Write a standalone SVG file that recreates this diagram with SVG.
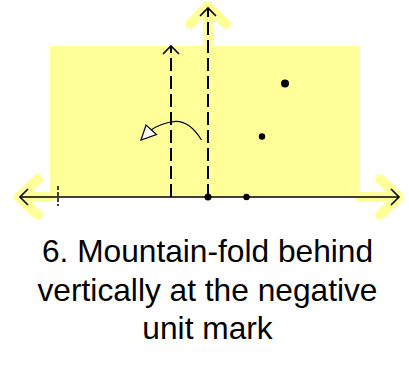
<svg xmlns="http://www.w3.org/2000/svg" width="409" height="389" viewBox="0 0 409 389">
<style>
.hl{fill:none;stroke:#ffff99;stroke-width:10;stroke-linecap:round;stroke-linejoin:round}
.ax{fill:none;stroke:#000;stroke-width:1.6}
.ah{fill:none;stroke:#000;stroke-width:1.6;stroke-linejoin:miter}
.dash{fill:none;stroke:#000;stroke-width:2;stroke-dasharray:13,5}
.dot{fill:#000}
.lbl{font-family:"Liberation Sans",Arial,sans-serif;font-size:31.7px;fill:#000;text-anchor:middle}
</style>
<rect width="409" height="389" fill="#fff"/>
<g id="paper">
<rect x="50" y="46" width="310" height="151" fill="#ffff99"/>
</g>
<g id="highlights">
<polyline class="hl" points="50,197 19,197"/>
<polyline class="hl" points="38,179 19,197 38,215"/>
<polyline class="hl" points="360,197 399,197"/>
<polyline class="hl" points="380,179 399,197 380,215"/>
<polyline class="hl" points="208,46 208,6"/>
<polyline class="hl" points="190,24 208,6 226,24"/>
</g>
<g id="connectors">
<line class="ax" x1="20" y1="197" x2="399" y2="197"/>
<polyline class="ah" points="28,189 20,197 28,205"/>
<polyline class="ah" points="391,189 399,197 391,205"/>
<line class="dash" x1="208" y1="197" x2="208" y2="8"/>
<polyline class="ah" points="200,16 208,8 216,16"/>
<line class="dash" x1="171" y1="197" x2="171" y2="46"/>
<polyline class="ah" points="163,54 171,46 179,54"/>
<line class="dash" x1="58" y1="186" x2="58" y2="206" style="stroke-width:1.5;stroke-dasharray:4,2"/>
<path d="M201.5,140 Q188,118 171,122 Q160,124 151,130" fill="none" stroke="#000" stroke-width="1.2"/>
<polygon points="141,140 146,125 156.5,134.5" fill="#fff" stroke="#000" stroke-width="1.2"/>
</g>
<g id="dots">
<circle class="dot" cx="208" cy="197" r="3.5"/>
<circle class="dot" cx="246.5" cy="197" r="3.2"/>
<circle class="dot" cx="262" cy="136.5" r="3.2"/>
<circle class="dot" cx="285" cy="83.5" r="4"/>
</g>
<g id="caption">
<text class="lbl" x="207.5" y="262">6. Mountain-fold behind</text>
<text class="lbl" x="207.5" y="300.5">vertically at the negative</text>
<text class="lbl" x="207.5" y="339">unit mark</text>
</g>
</svg>
